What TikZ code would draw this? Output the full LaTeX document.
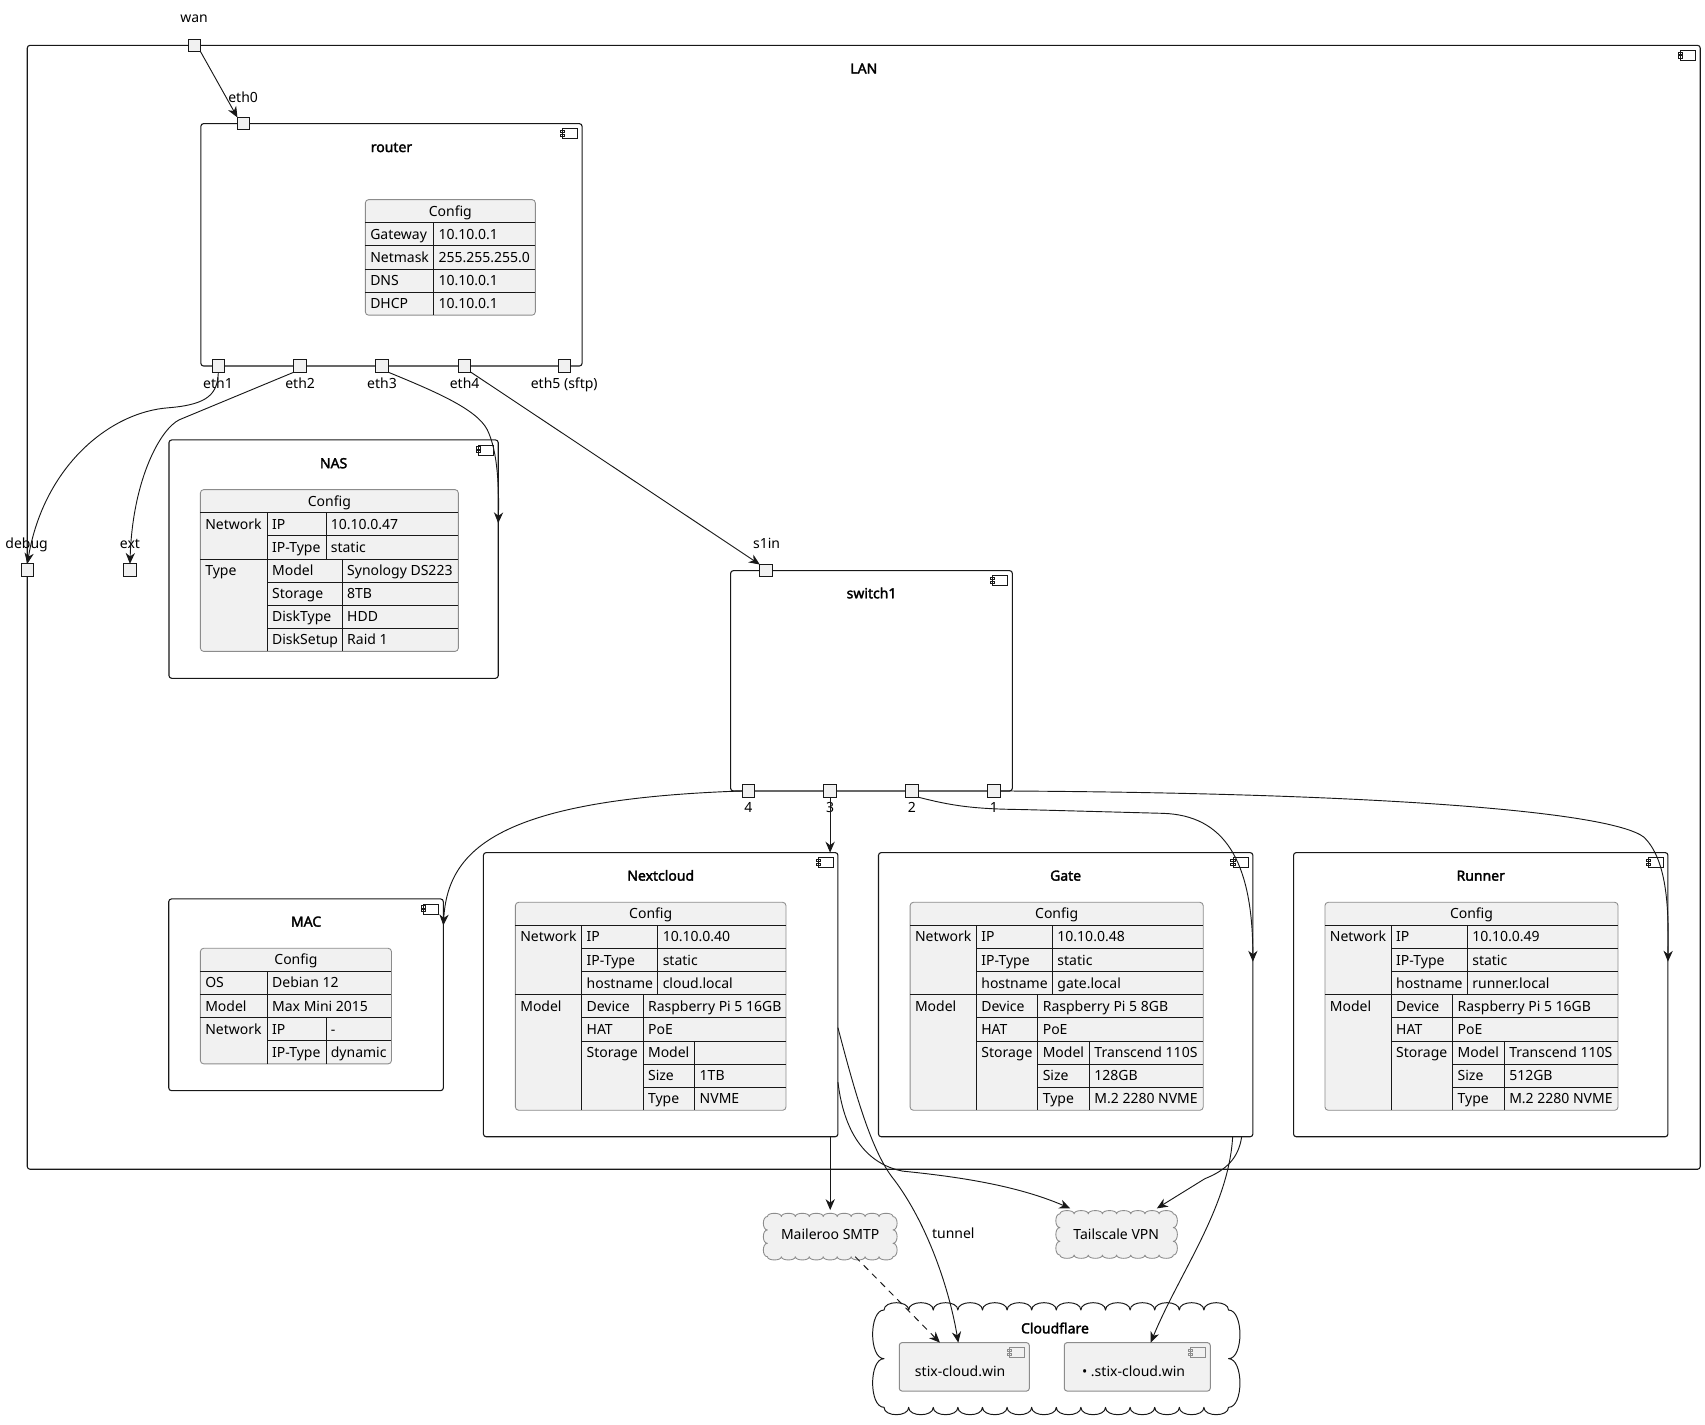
\documentclass[tikz,border=0pt]{standalone}
\usepackage{fontspec}
\setmainfont{Noto Sans}[AutoFakeBold=2.2]
\usetikzlibrary{arrows.meta}
\definecolor{lg}{HTML}{F1F1F1}
\definecolor{bd}{HTML}{181818}
\definecolor{gb}{HTML}{8C8C8C}
\newcount\cellcnt
\newcommand\nsz{\fontsize{12.87}{15}\selectfont}
\tikzset{
  every node/.style={font=\nsz, inner sep=0pt, outer sep=0pt},
  txt/.style={text height=9.2pt, text depth=0pt},
  ttl/.style={txt, font=\nsz\bfseries},
  autoname/.code={\global\advance\cellcnt by 1\relax\edef\cellnm{cell\the\cellcnt}\pgfkeysalso{/tikz/name/.expand once=\cellnm}},
  cell/.style={txt, anchor=west, autoname},
  cellc/.style={txt, autoname},
  comp/.style={draw=bd, fill=white, line width=1pt, rounded corners=2.5pt},
  compg/.style={draw=gb, fill=lg, line width=0.9pt, rounded corners=2.5pt},
  port/.style={draw=bd, fill=lg, line width=0.9pt, minimum width=11.3pt, minimum height=11.3pt},
  conn/.style={draw=bd, line width=0.85pt, -{Stealth[length=10pt,width=8.5pt,inset=3.2pt]}},
  tline/.style={draw=bd, line width=0.8pt},
  tframe/.style={draw=gb, fill=lg, line width=0.8pt, rounded corners=3pt},
  smcloud/.style={draw=gb, fill=lg, line width=0.8pt, line join=round},
  bigcloud/.style={draw=bd, fill=white, line width=0.9pt, line join=round},
}
% scalloped outline: #1 style, (#2,#3)-(#4,#5) inner rectangle, #6 bumps across, #7 bumps down, #8 top/bottom bulge, #9 side bulge
\newcommand\scallop[9]{%
  \pgfmathsetmacro\scw{(#4-#2)/#6}\pgfmathsetmacro\sch{(#5-#3)/#7}%
  \path[#1] (#2,#3)
    \foreach \i in {1,...,#6} { .. controls +(0,-#8) and +(0,-#8) .. ++(\scw,0) }
    \foreach \i in {1,...,#7} { .. controls +(#9,0) and +(#9,0) .. ++(0,\sch) }
    \foreach \i in {1,...,#6} { .. controls +(0,#8) and +(0,#8) .. ++(-\scw,0) }
    \foreach \i in {1,...,#7} { .. controls +(-#9,0) and +(-#9,0) .. ++(0,-\sch) } -- cycle;}
\newcommand\compicon[2][bd]{%
  \begin{scope}[shift={(#2.north east)}, line width=0.8pt]
    \draw[#1] (-18,4.6) rectangle (-4.2,13.8);
    \draw[#1] (-20.2,6.1) rectangle (-16.2,8.3);
    \draw[#1] (-20.2,9.5) rectangle (-16.2,11.6);
  \end{scope}}
\newcommand\pitab[8]{%
  \begin{scope}[shift={(#1,829.8)}]
    \path[tframe] (0,0) rectangle (#2,191.25);
    \draw[tline] (0,21.25) -- (#2,21.25) (61,42.5) -- (#2,42.5) (61,63.75) -- (#2,63.75)
      (0,85) -- (#2,85) (61,106.25) -- (#2,106.25) (61,127.5) -- (#2,127.5)
      (117.5,148.75) -- (#2,148.75) (117.5,170) -- (#2,170)
      (61,21.25) -- (61,191.25) (131,21.25) -- (131,85) (117.5,85) -- (117.5,191.25) (165,127.5) -- (165,191.25);
    \node[cellc] at ({#2/2},10.625) {Config};
    \node[cell] at (4.5,31.875) {Network};
    \node[cell] at (65.5,31.875) {IP};
    \node[cell] at (135.5,31.875) {#3};
    \node[cell] at (65.5,53.125) {IP-Type};
    \node[cell] at (135.5,53.125) {static};
    \node[cell] at (65.5,74.375) {hostname};
    \node[cell] at (135.5,74.375) {#4};
    \node[cell] at (4.5,95.625) {Model};
    \node[cell] at (65.5,95.625) {Device};
    \node[cell] at (122,95.625) {#5};
    \node[cell] at (65.5,116.875) {HAT};
    \node[cell] at (122,116.875) {PoE};
    \node[cell] at (65.5,138.125) {Storage};
    \node[cell] at (122,138.125) {Model};
    \node[cell] at (169.5,138.125) {#6};
    \node[cell] at (122,159.375) {Size};
    \node[cell] at (169.5,159.375) {#7};
    \node[cell] at (122,180.625) {Type};
    \node[cell] at (169.5,180.625) {#8};
  \end{scope}}
\begin{document}
\begin{tikzpicture}[x=1pt,y=-1pt]
\useasboundingbox (0,0) rectangle (1568,1310.5);
\fill[white] (0,0) rectangle (1568,1310.5);

% ---------- component boxes ----------
\node[comp, minimum width=1538.5pt, minimum height=1033.6pt] (lan) at (794.35,558.5) {};
\node[ttl] (lan-t) at (794.4,63) {LAN};
\compicon{lan}
\node[comp, minimum width=350.6pt, minimum height=222.9pt] (router) at (360,225.15) {};
\node[ttl] (router-t) at (360,135.2) {router};
\compicon{router}
\node[comp, minimum width=302.8pt, minimum height=219.2pt] (nas) at (306.8,514.2) {};
\node[ttl] (nas-t) at (306.8,426) {NAS};
\compicon{nas}
\node[comp, minimum width=259.1pt, minimum height=202.6pt] (switch1) at (801.45,626.1) {};
\node[ttl] (switch1-t) at (801.5,545.6) {switch1};
\compicon{switch1}
\node[comp, minimum width=252.5pt, minimum height=176.3pt] (mac) at (281.45,914.85) {};
\node[ttl] (mac-t) at (281.5,847.6) {MAC};
\compicon{mac}
\node[comp, minimum width=326pt, minimum height=261.3pt] (nextcloud) at (607.6,914.75) {};
\node[ttl] (nextcloud-t) at (607.6,805.3) {Nextcloud};
\compicon{nextcloud}
\node[comp, minimum width=344.3pt, minimum height=261.3pt] (gate) at (980.05,914.75) {};
\node[ttl] (gate-t) at (980,805.3) {Gate};
\compicon{gate}
\node[comp, minimum width=344.3pt, minimum height=261.3pt] (runner) at (1361.75,914.75) {};
\node[ttl] (runner-t) at (1361.75,805.3) {Runner};
\compicon{runner}

% ---------- tables ----------
\begin{scope}[shift={(336,183.6)}]
  \path[tframe] (0,0) rectangle (156.3,106.25);
  \draw[tline] (0,21.25) -- (156.3,21.25) (0,42.5) -- (156.3,42.5) (0,63.75) -- (156.3,63.75) (0,85) -- (156.3,85) (62.9,21.25) -- (62.9,106.25);
  \node[cellc] at (78.15,10.625) {Config};
  \node[cell] at (4.5,31.875) {Gateway};
  \node[cell] at (67.4,31.875) {10.10.0.1};
  \node[cell] at (4.5,53.125) {Netmask};
  \node[cell] at (67.4,53.125) {255.255.255.0};
  \node[cell] at (4.5,74.375) {DNS};
  \node[cell] at (67.4,74.375) {10.10.0.1};
  \node[cell] at (4.5,95.625) {DHCP};
  \node[cell] at (67.4,95.625) {10.10.0.1};
\end{scope}
\begin{scope}[shift={(184.3,450.3)}]
  \path[tframe] (0,0) rectangle (237.2,148.75);
  \draw[tline] (0,21.25) -- (237.2,21.25) (61.5,42.5) -- (237.2,42.5) (0,63.75) -- (237.2,63.75)
    (61.5,85) -- (237.2,85) (61.5,106.25) -- (237.2,106.25) (61.5,127.5) -- (237.2,127.5)
    (61.5,21.25) -- (61.5,148.75) (115.5,21.25) -- (115.5,63.75) (130.5,63.75) -- (130.5,148.75);
  \node[cellc] at (118.6,10.625) {Config};
  \node[cell] at (4.5,31.875) {Network};
  \node[cell] at (66,31.875) {IP};
  \node[cell] at (120,31.875) {10.10.0.47};
  \node[cell] at (66,53.125) {IP-Type};
  \node[cell] at (120,53.125) {static};
  \node[cell] at (4.5,74.375) {Type};
  \node[cell] at (66,74.375) {Model};
  \node[cell] at (135,74.375) {Synology DS223};
  \node[cell] at (66,95.625) {Storage};
  \node[cell] at (135,95.625) {8TB};
  \node[cell] at (66,116.875) {DiskType};
  \node[cell] at (135,116.875) {HDD};
  \node[cell] at (66,138.125) {DiskSetup};
  \node[cell] at (135,138.125) {Raid 1};
\end{scope}
\begin{scope}[shift={(184.3,872.1)}]
  \path[tframe] (0,0) rectangle (175.7,106.25);
  \draw[tline] (0,21.25) -- (175.7,21.25) (0,42.5) -- (175.7,42.5) (0,63.75) -- (175.7,63.75) (61.6,85) -- (175.7,85)
    (61.6,21.25) -- (61.6,106.25) (115.7,63.75) -- (115.7,106.25);
  \node[cellc] at (87.85,10.625) {Config};
  \node[cell] at (4.5,31.875) {OS};
  \node[cell] at (66,31.875) {Debian 12};
  \node[cell] at (4.5,53.125) {Model};
  \node[cell] at (66,53.125) {Max Mini 2015};
  \node[cell] at (4.5,74.375) {Network};
  \node[cell] at (66,74.375) {IP};
  \node[cell] at (120,74.375) {-};
  \node[cell] at (66,95.625) {IP-Type};
  \node[cell] at (120,95.625) {dynamic};
\end{scope}
\pitab{474}{248.8}{10.10.0.40}{cloud.local}{Raspberry Pi 5 16GB}{}{1TB}{NVME}
\pitab{837}{269.5}{10.10.0.48}{gate.local}{Raspberry Pi 5 8GB}{Transcend 110S}{128GB}{M.2 2280 NVME}
\pitab{1218.5}{269.5}{10.10.0.49}{runner.local}{Raspberry Pi 5 16GB}{Transcend 110S}{512GB}{M.2 2280 NVME}

% ---------- clouds ----------
\node[minimum width=316.8pt, minimum height=89.5pt] (cloudflare) at (971.4,1249.5) {};
\scallop{bigcloud}{813}{1204.75}{1129.8}{1294.25}{14}{2}{9}{14}
\node[ttl] (cloudflare-t) at (970.2,1221.6) {Cloudflare};
\node[compg, minimum width=119.6pt, minimum height=44.5pt] (stix1) at (886.8,1257) {};
\compicon[gb]{stix1}
\node[txt] (stix1-t) at (883,1261.5) {stix-cloud.win};
\node[compg, minimum width=134.2pt, minimum height=44.5pt] (stix2) at (1045.9,1257) {};
\compicon[gb]{stix2}
\node[txt] (stix2-t) at (1042.5,1261.5) {• .stix-cloud.win};
\node[minimum width=115.5pt, minimum height=36.9pt] (maileroo) at (763.5,1137.25) {};
\scallop{smcloud}{705.75}{1118.8}{821.25}{1155.7}{9}{3}{4}{5}
\node[txt] (maileroo-t) at (763.5,1135) {Maileroo SMTP};
\node[minimum width=104.25pt, minimum height=37.9pt] (tailscale) at (1026.9,1135.25) {};
\scallop{smcloud}{974.75}{1116.3}{1079}{1154.2}{8}{3}{4}{5}
\node[txt] (tailscale-t) at (1026.5,1135) {Tailscale VPN};

% ---------- ports ----------
\node[port] (wan) at (178.7,41.7) {};
\node[txt] (wan-l) at (178.5,16.5) {wan};
\node[port] (eth0) at (224,113.7) {};
\node[txt] (eth0-l) at (223.6,89.5) {eth0};
\node[port] (eth1) at (200.8,336.6) {};
\node[txt] (eth1-l) at (200.5,352.5) {eth1};
\node[port] (eth2) at (276,336.6) {};
\node[txt] (eth2-l) at (276,352.5) {eth2};
\node[port] (eth3) at (351.3,336.6) {};
\node[txt] (eth3-l) at (351.3,352.5) {eth3};
\node[port] (eth4) at (427.3,336.6) {};
\node[txt] (eth4-l) at (427.3,352.5) {eth4};
\node[port] (eth5) at (518.9,336.6) {};
\node[txt] (eth5-l) at (518.9,352.5) {eth5 (sftp)};
\node[port] (debug) at (25.1,524.2) {};
\node[txt] (debug-l) at (24.5,499.7) {debug};
\node[port] (ext) at (119.5,524.2) {};
\node[txt] (ext-l) at (119.5,499.7) {ext};
\node[port] (s1in) at (704.4,524.8) {};
\node[txt] (s1in-l) at (705,499.7) {s1in};
\node[port] (p4) at (688.2,727.4) {};
\node[txt] (p4-l) at (688.2,742.7) {4};
\node[port] (p3) at (763.4,727.4) {};
\node[txt] (p3-l) at (763.4,742.7) {3};
\node[port] (p2) at (838.6,727.4) {};
\node[txt] (p2-l) at (838.6,742.7) {2};
\node[port] (p1) at (914.1,727.4) {};
\node[txt] (p1-l) at (914.1,742.7) {1};

% ---------- connectors ----------
\draw[conn] (wan.south east) -- (eth0.north west);
\draw[conn] (eth1.south) .. controls (200,362) and (192,372) .. (155,375) .. controls (100,379) and (40,430) .. (debug.north);
\draw[conn] (eth2.south west) -- (165,386) .. controls (148,394) and (122,440) .. (ext.north);
\draw[conn] (eth3.south east) .. controls (400,360) and (438,376) .. (448,395) .. controls (458,415) and (459,450) .. ([yshift=-76.6pt]nas.north east);
\draw[conn] (eth4.south east) -- (s1in.north west);
\draw[conn] (p4.west) .. controls (460,735) and (412,780) .. ([yshift=-24.3pt]mac.north east);
\draw[conn] (p3.south) -- (p3.south |- nextcloud.north);
\draw[conn] (p2.south east) .. controls (875,741) and (895,744) .. (940,744.5) -- (1070,748) .. controls (1125,750) and (1152,790) .. ([yshift=-100.3pt]gate.north east);
\draw[conn] (p1.east) .. controls (1250,729) and (1480,745) .. (1512,770) .. controls (1532,790) and (1535,830) .. ([yshift=-100.3pt]runner.north east);
\draw[conn] (maileroo.north |- nextcloud.south) -- ([yshift=6pt]maileroo.north);
\draw[conn] ([yshift=-161pt]nextcloud.north east) .. controls (785,1000) and (800,1055) .. (820,1082) .. controls (850,1120) and (872,1180) .. ([xshift=-5.5pt]stix1.north);
\node[txt] (tunnel-l) at (876.7,1134) {tunnel};
\draw[conn] ([yshift=-211pt]nextcloud.north east) .. controls (776,1040) and (795,1070) .. (830,1077) .. controls (880,1082) and (935,1090) .. ([xshift=-42.7pt,yshift=5pt]tailscale.north);
\draw[conn] ([xshift=-10.3pt]gate.south east) .. controls (1139,1065) and (1128,1076) .. (1108,1084) -- ([xshift=37pt,yshift=5pt]tailscale.north);
\draw[conn] ([xshift=-18.6pt]gate.south east) .. controls (1130,1110) and (1085,1170) .. ([xshift=12.3pt]stix2.north);
\draw[conn, dash pattern=on 6pt off 5pt] ([xshift=23pt]maileroo.south) -- ([xshift=-22.4pt]stix1.north);
\end{tikzpicture}
\end{document}
